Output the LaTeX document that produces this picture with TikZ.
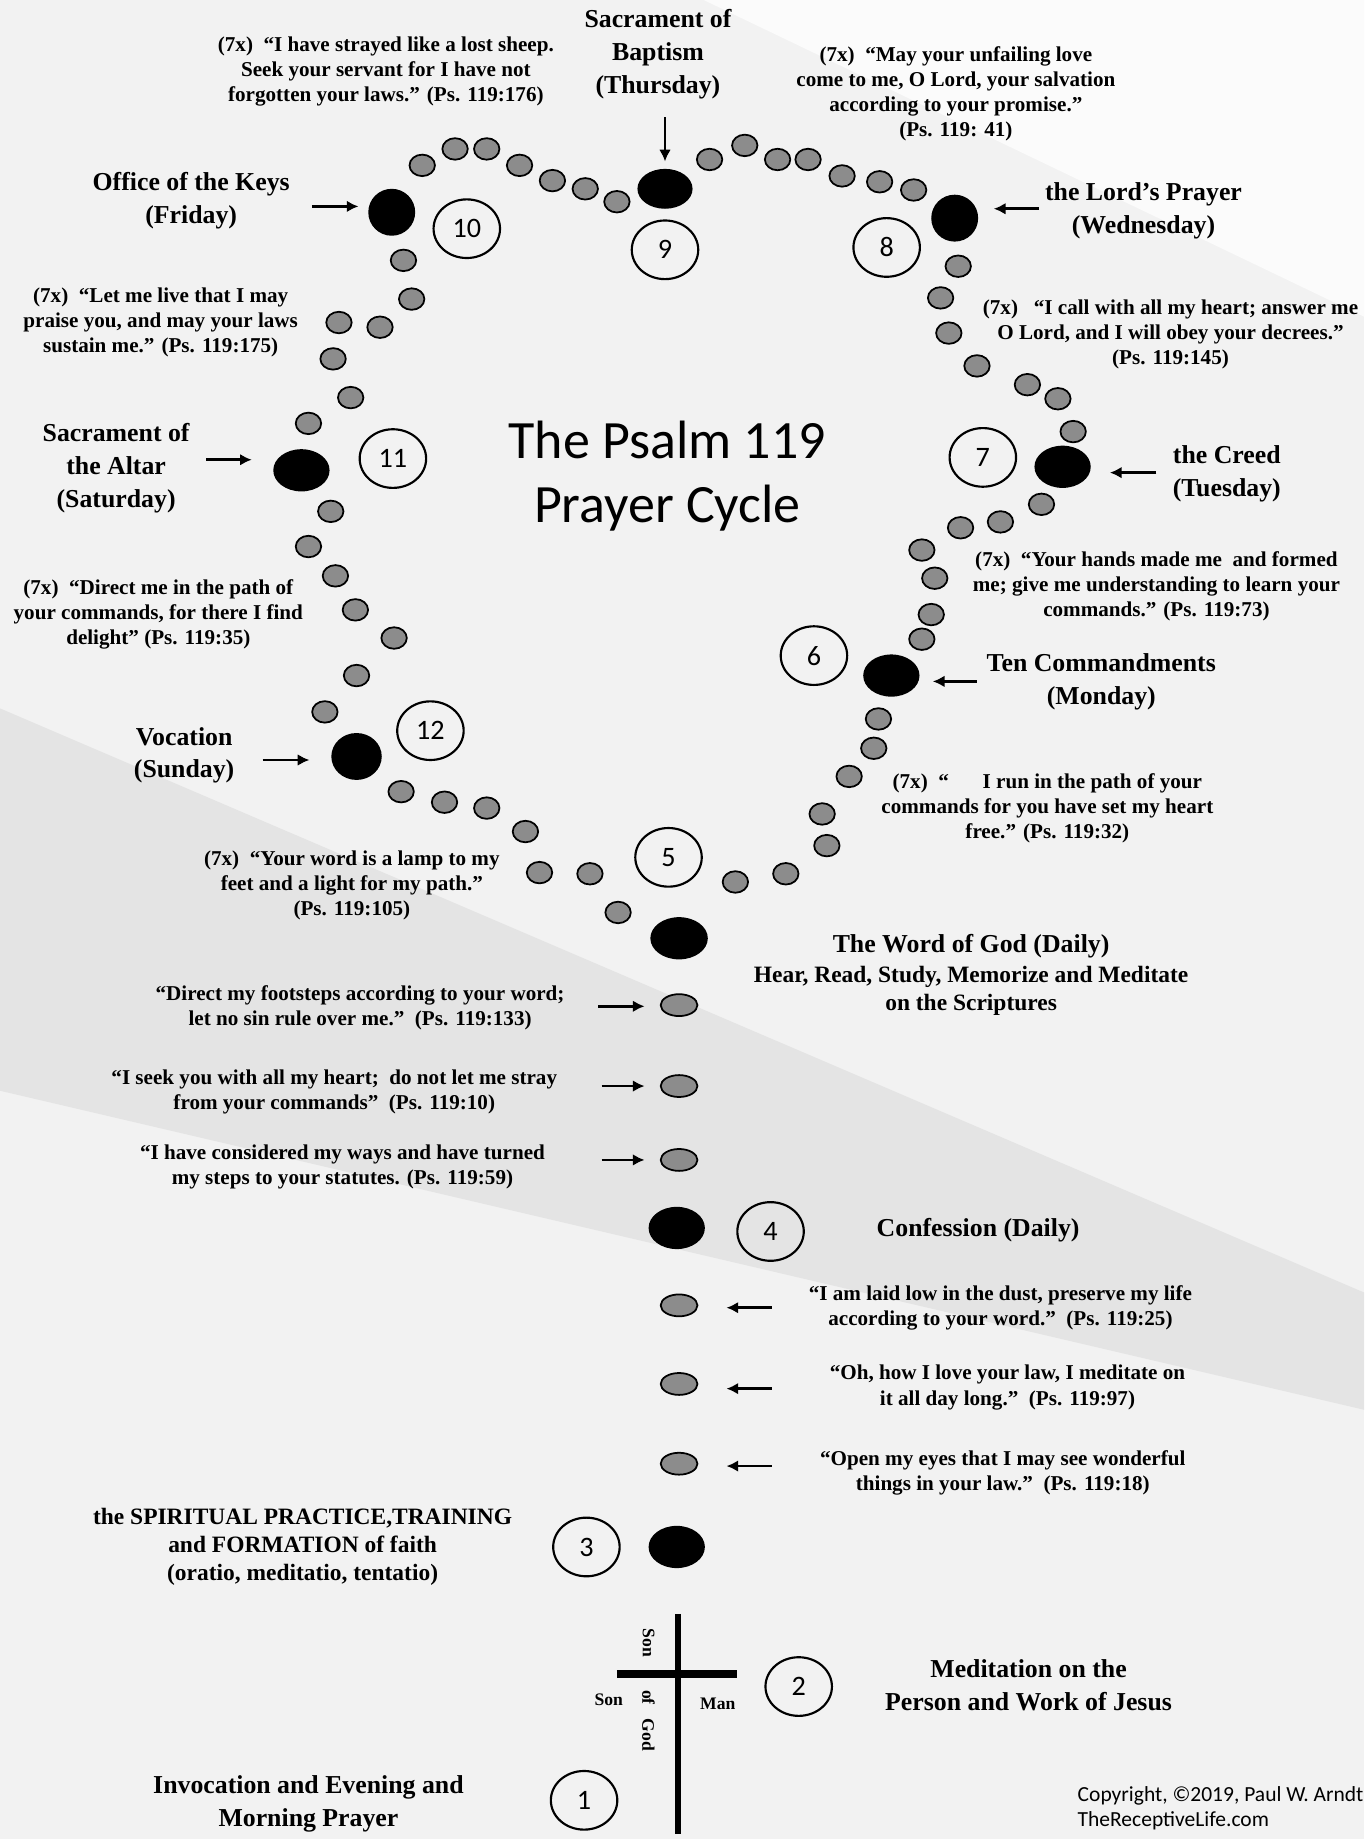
\documentclass[tikz,border=0pt]{standalone}
\usepackage{fontspec}
\setmainfont{Liberation Serif}
\newfontfamily\calibri{Carlito}
\usetikzlibrary{shapes.geometric,arrows.meta}

\definecolor{pagegray}{HTML}{F2F2F2}
\definecolor{bandgray}{HTML}{E4E4E4}
\definecolor{cornerwhite}{HTML}{FBFBFB}
\definecolor{beadgray}{HTML}{8C8C8C}

\newcommand{\qtfont}{\bfseries\fontsize{10.8pt}{12.9pt}\selectfont}
\newcommand{\lbfont}{\bfseries\fontsize{13.2pt}{16.8pt}\selectfont}
\newcommand{\sbfont}{\bfseries\fontsize{12pt}{14.4pt}\selectfont}
\newcommand{\smfont}{\bfseries\fontsize{9pt}{10pt}\selectfont}
\newcommand{\ttlfont}{\calibri\fontsize{27.6pt}{33pt}\selectfont}
\newcommand{\nmfont}{\calibri\fontsize{14.4pt}{16pt}\selectfont}
\newcommand{\cpfont}{\calibri\fontsize{11pt}{12.9pt}\selectfont}

\begin{document}
\begin{tikzpicture}[x=0.6pt,y=-0.6pt,
	bead/.style={ellipse, draw=black, line width=0.9pt, fill=beadgray, inner sep=0pt, minimum width=13pt, minimum height=11pt},
	stembead/.style={bead, minimum width=18.8pt, minimum height=11.2pt},
	blackbead/.style={ellipse, fill=black, inner sep=0pt, minimum width=28.8pt, minimum height=21.6pt},
	numring/.style={ellipse, draw, line width=1.1pt, inner sep=0pt, minimum width=34pt, minimum height=30pt, font=\nmfont},
	psquote/.style={align=center, font=\qtfont},
	daylabel/.style={align=center, font=\lbfont},
	arr/.style={->, >={Latex[length=6pt,width=6pt]}, line width=1.4pt, shorten >=#1},
	arr/.default=4pt]

		\useasboundingbox (0,0) rectangle (1163,1568);
		\fill[pagegray] (0,0) rectangle (1163,1568);
		\fill[cornerwhite] (600,0) -- (1163,0) -- (1163,270) -- cycle;
		\fill[bandgray] (0,604) -- (1163,1102) -- (1163,1202) -- (0,930) -- cycle;

		\foreach \x/\y [count=\i] in {527/778, 503/745, 460/744, 448/709, 415/689, 379/684, 342/675,
				277/607, 304/576, 336/544, 303/520, 286/491, 263/466, 282/436,
				263/361, 299/339, 284/306, 324/279, 289/275, 351/255, 344/222,
				360/141, 388/127, 415/127, 443/141, 471/154, 499/161, 526/172,
				605/136, 635/124, 663/136, 689/136, 718/150, 750/155, 779/162,
				817/227, 802/254, 809/284, 833/312, 876/328, 902/340, 915/368,
				888/430, 853/445, 819/450, 786/469, 797/493, 794/524, 786/545,
				749/613, 745/638, 724/662, 701/694, 705/721, 670/745, 627/752}
			\node[bead] (g\i) at (\x,\y) {};

		\node[blackbead, minimum width=29.4pt] (word) at (579,800) {};
		\node[blackbead, minimum width=25.8pt, minimum height=24pt] (vocation) at (304,645) {};
		\node[blackbead] (altar) at (257,401) {};
		\node[blackbead, minimum width=24pt, minimum height=24pt] (keys) at (334,181) {};
		\node[blackbead, minimum width=28.2pt, minimum height=20.4pt] (baptism) at (567,161) {};
		\node[blackbead, minimum width=24pt, minimum height=24pt] (lordsprayer) at (814,186) {};
		\node[blackbead] (creed) at (906,398) {};
		\node[blackbead] (commandments) at (760,576) {};
		\node[blackbead] (confession) at (577,1047) {};
		\node[blackbead] (practice) at (577,1319) {};

		\node[stembead] (s133) at (579,857) {};
		\node[stembead] (s10) at (579,926) {};
		\node[stembead] (s59) at (579,989) {};
		\node[stembead] (s25) at (579,1113) {};
		\node[stembead] (s97) at (579,1180) {};
		\node[stembead] (s18) at (579,1248) {};

		\node[numring] (n1) at (498,1535) {1};
		\node[numring] (n2) at (681,1438) {2};
		\node[numring] (n3) at (500,1319) {3};
		\node[numring] (n4) at (657,1050) {4};
		\node[numring] (n5) at (570,731) {5};
		\node[numring] (n6) at (694,559) {6};
		\node[numring] (n7) at (838,390) {7};
		\node[numring] (n8) at (756,211) {8};
		\node[numring] (n9) at (567,213) {9};
		\node[numring] (n10) at (398,195) {10};
		\node[numring] (n11) at (335,391) {11};
		\node[numring] (n12) at (367,623) {12};

		\coordinate (crosstop) at (578,1376);
		\coordinate (crossfoot) at (578,1564);
		\coordinate (armleft) at (526,1427);
		\coordinate (armright) at (628,1427);
		\draw[line width=3pt] (crosstop) -- (crossfoot);
		\draw[line width=4.2pt] (armleft) -- (armright);
		\node[font=\smfont, rotate=-90] (sonup) at (553,1401) {Son};
		\node[font=\smfont, rotate=-90] (ofgod) at (553,1467) {of\hspace{0.8em}God};
		\node[font=\smfont] (sonleft) at (519,1449) {Son};
		\node[font=\smfont] (manright) at (612,1453) {Man};

		\node[font=\ttlfont, align=center] (title) at (569,406) {The Psalm 119\\Prayer Cycle};

		\node[psquote] (q176) at (329,61) {(7x)~~“I have strayed like a lost sheep.\\Seek your servant for I have not\\forgotten your laws.” (Ps. 119:176)};
		\node[daylabel] (lbaptism) at (561,46) {Sacrament of\\Baptism\\(Thursday)};
		\coordinate (tbaptism) at (567,100);
		\draw[arr=3.6pt] (tbaptism) -- (tbaptism |- baptism.north);
		\node[psquote] (q41) at (815,80) {(7x)~~“May your unfailing love\\come to me, O Lord, your salvation\\according to your promise.”\\(Ps. 119: 41)};

		\node[daylabel] (lkeys) at (163,171) {Office of the Keys\\(Friday)};
		\coordinate (tkeys) at (266,176);
		\draw[arr=4.8pt] (tkeys) -- (tkeys -| keys.west);
		\node[daylabel] (llord) at (975,180) {the Lord’s Prayer\\(Wednesday)};
		\coordinate (tlord) at (886,178);
		\draw[arr=7.8pt] (tlord) -- (tlord -| lordsprayer.east);

		\node[psquote] (q175) at (137,275) {(7x)~~“Let me live that I may\\praise you, and may your laws\\sustain me.” (Ps. 119:175)};
		\node[psquote] (q145) at (998,285) {(7x)~~~“I call with all my heart; answer me\\O Lord, and I will obey your decrees.”\\(Ps. 119:145)};

		\node[daylabel] (laltar) at (99,399) {Sacrament of\\the Altar\\(Saturday)};
		\coordinate (taltar) at (176,392);
		\draw[arr=10.8pt] (taltar) -- (taltar -| altar.west);
		\node[daylabel] (lcreed) at (1046,404) {the Creed\\(Tuesday)};
		\coordinate (tcreed) at (986,403);
		\draw[arr=9.6pt] (tcreed) -- (tcreed -| creed.east);

		\node[psquote] (q73) at (986,500) {(7x)~~“Your hands made me~~and formed\\me; give me understanding to learn your\\commands.” (Ps. 119:73)};
		\node[psquote] (q35) at (135,524) {(7x)~~“Direct me in the path of\\your commands, for there I find\\delight” (Ps. 119:35)};

		\node[daylabel] (lten) at (939,581) {Ten Commandments\\(Monday)};
		\coordinate (tten) at (833,581);
		\draw[arr=6.6pt] (tten) -- (tten -| commandments.east);
		\node[daylabel] (lvocation) at (157,644) {Vocation\\(Sunday)};
		\coordinate (tvocation) at (224,648);
		\draw[arr=11pt] (tvocation) -- (tvocation -| vocation.west);

		\node[psquote] (q32) at (893,689) {(7x)~~“\hspace{1.6em}I run in the path of your\\commands for you have set my heart\\free.” (Ps. 119:32)};
		\node[psquote] (q105) at (300,755) {(7x)~~“Your word is a lamp to my\\feet and a light for my path.”\\(Ps. 119:105)};

		\node[daylabel] (lword) at (828,807) {The Word of God (Daily)};
		\node[font=\sbfont, align=center] (lscripture) at (828,845) {Hear, Read, Study, Memorize and Meditate\\on the Scriptures};

		\node[psquote] (q133) at (307,859) {“Direct my footsteps according to your word;\\let no sin rule over me.”~~(Ps. 119:133)};
		\coordinate (t133) at (510,858);
		\draw[arr=7.8pt] (t133) -- (t133 -| s133.west);
		\node[psquote] (q10) at (285,931) {“I seek you with all my heart;~~do not let me stray\\from your commands”~~(Ps. 119:10)};
		\coordinate (t10) at (513,926);
		\draw[arr=7.8pt] (t10) -- (t10 -| s10.west);
		\node[psquote] (q59) at (292,995) {“I have considered my ways and have turned\\my steps to your statutes. (Ps. 119:59)};
		\coordinate (t59) at (513,989);
		\draw[arr=7.8pt] (t59) -- (t59 -| s59.west);

		\node[daylabel] (lconfession) at (834,1049) {Confession (Daily)};

		\node[psquote] (q25) at (853,1115) {“I am laid low in the dust, preserve my life\\according to your word.”~~(Ps. 119:25)};
		\coordinate (t25) at (658,1115);
		\draw[arr=14.4pt] (t25) -- (t25 -| s25.east);
		\node[psquote] (q97) at (859,1183) {“Oh, how I love your law, I meditate on\\it all day long.”~~(Ps. 119:97)};
		\coordinate (t97) at (658,1184);
		\draw[arr=14.4pt] (t97) -- (t97 -| s97.east);
		\node[psquote] (q18) at (855,1256) {“Open my eyes that I may see wonderful\\things in your law.”~~(Ps. 119:18)};
		\coordinate (t18) at (658,1250);
		\draw[arr=14.4pt] (t18) -- (t18 -| s18.east);

		\node[font=\sbfont, align=center] (lpractice) at (258,1319) {the SPIRITUAL PRACTICE,TRAINING\\and FORMATION of faith\\(oratio, meditatio, tentatio)};
		\node[daylabel] (lmeditation) at (877,1437) {Meditation on the\\Person and Work of Jesus};
		\node[daylabel] (linvocation) at (263,1538) {Invocation and Evening and\\Morning Prayer};

		\node[font=\cpfont, anchor=west, align=left] (copyright) at (913,1542) {Copyright, ©2019, Paul W. Arndt\\TheReceptiveLife.com};

\end{tikzpicture}
\end{document}
